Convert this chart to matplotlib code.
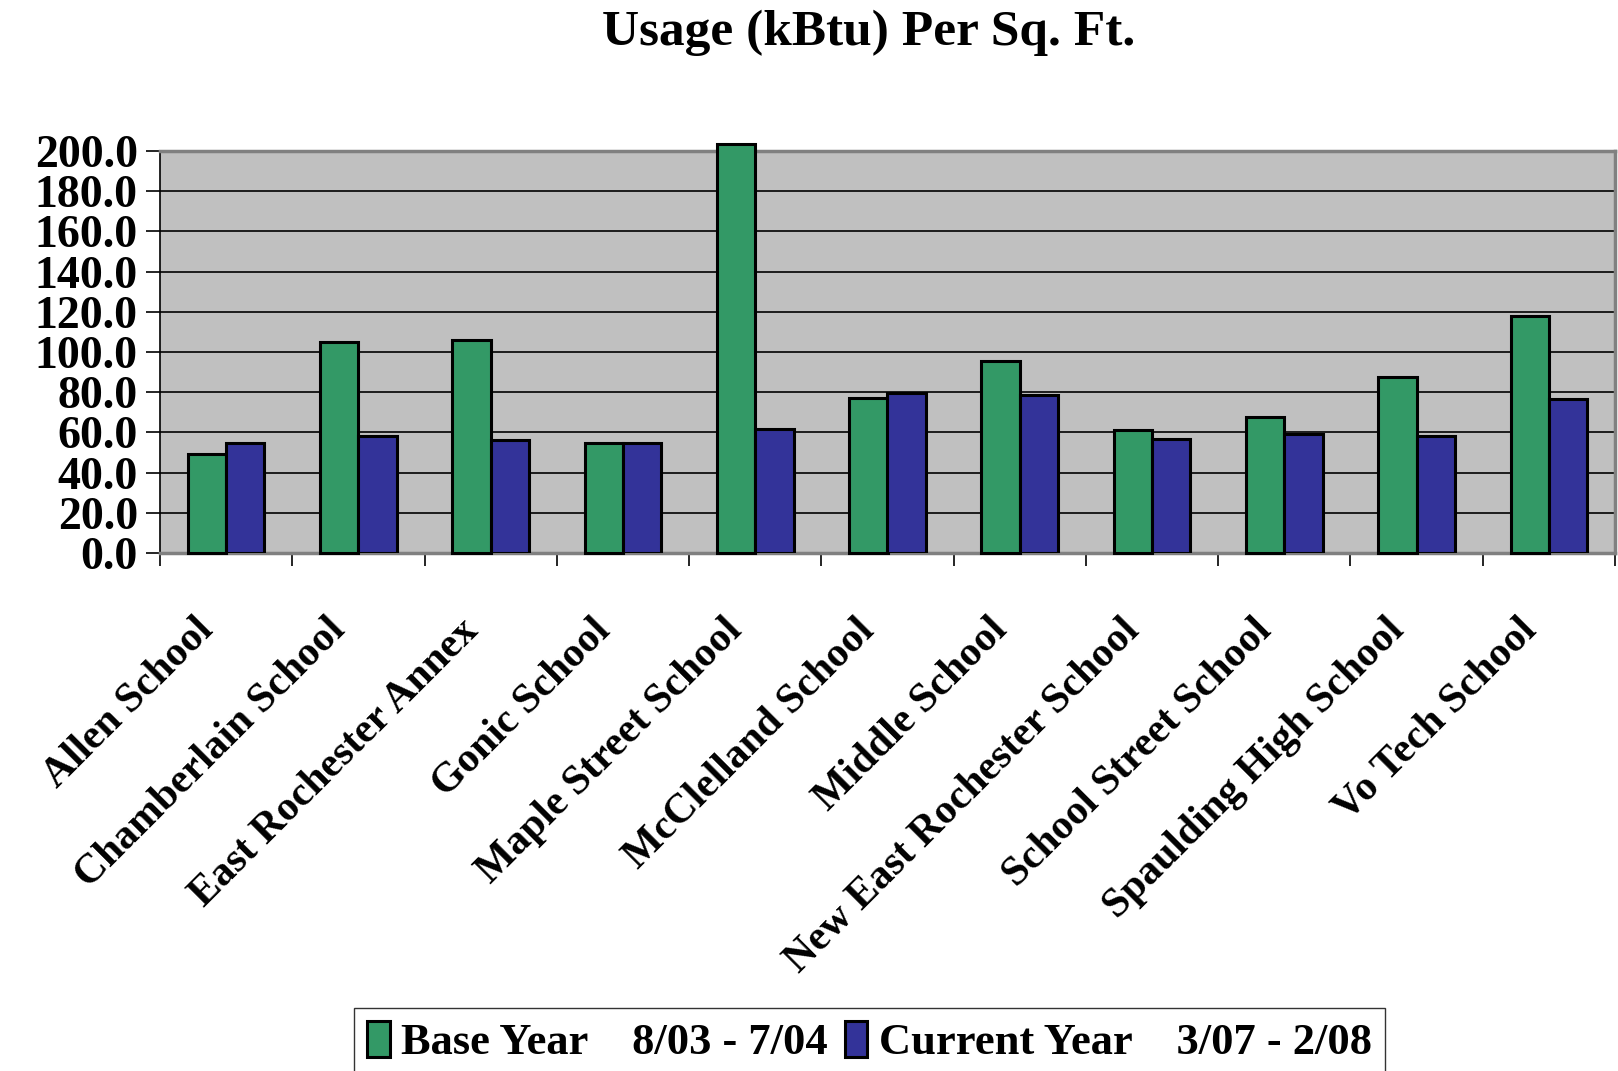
import numpy as np
import matplotlib
matplotlib.use('Agg')
import matplotlib.pyplot as plt
from matplotlib.transforms import ScaledTranslation

# Data
schools = ['Allen School', 'Chamberlain School', 'East Rochester Annex', 'Gonic School',
           'Maple Street School', 'McClelland School', 'Middle School',
           'New East Rochester School', 'School Street School', 'Spaulding High School',
           'Vo Tech School']
base_year = [49.5, 105.0, 106.0, 54.5, 203.5, 77.0, 95.5, 61.0, 67.5, 87.5, 118.0]
current_year = [54.5, 58.0, 56.0, 54.5, 61.5, 79.5, 78.5, 56.5, 59.0, 58.0, 76.5]
yticks = [0, 20, 40, 60, 80, 100, 120, 140, 160, 180, 200]

plt.rcParams['font.family'] = ['Liberation Serif', 'DejaVu Serif']
plt.rcParams['font.weight'] = 'bold'

W, H = 1618, 1071
fig = plt.figure(figsize=(W / 100, H / 100), dpi=100)
ax = fig.add_axes([160 / W, 1 - 553 / H, (1615 - 160) / W, (553 - 151) / H])
ax.set_facecolor('#C0C0C0')

x = np.arange(len(schools))
bw = 0.29
ax.bar(x - bw / 2, base_year, bw, color='#339966', edgecolor='black', linewidth=2.2,
       label='Base Year    8/03 - 7/04', zorder=3, clip_on=False)
ax.bar(x + bw / 2, current_year, bw, color='#333399', edgecolor='black', linewidth=2.2,
       label='Current Year    3/07 - 2/08', zorder=3)

ax.set_xlim(-0.5, len(schools) - 0.5)
ax.set_ylim(0, 200)
ax.set_yticks(yticks)
ax.set_yticklabels([f'{v:.1f}' for v in yticks], fontsize=33, fontweight='bold')
ax.yaxis.grid(True, color='black', linewidth=1.2, zorder=1)
ax.tick_params(axis='y', direction='out', length=10, width=1.2, pad=6)

# category boundaries as tick marks, names at the centres
ax.set_xticks(np.arange(len(schools) + 1) - 0.5)
ax.set_xticklabels([])
ax.set_xticks(x, minor=True)
ax.set_xticklabels(schools, minor=True, rotation=45, ha='right', va='top',
                   rotation_mode='anchor', fontsize=30, fontweight='bold')
ax.tick_params(axis='x', which='major', direction='out', length=9, width=1.2)
ax.tick_params(axis='x', which='minor', length=0, pad=42)
shift = ScaledTranslation(-32 / 100, 0, fig.dpi_scale_trans)
for lbl in ax.get_xticklabels(minor=True):
    lbl.set_transform(lbl.get_transform() + shift)

for s in ax.spines.values():
    s.set_color('#808080')
    s.set_linewidth(2.5)
ax.spines['left'].set_color('black')
ax.spines['left'].set_linewidth(1.2)

fig.text(869 / W, 1 - 33 / H, 'Usage (kBtu) Per Sq. Ft.', ha='center', va='center',
         fontsize=37, fontweight='bold')

leg = fig.legend(loc='upper left', bbox_to_anchor=(354 / W, 1 - 1008 / H), ncol=2,
                 fontsize=32, frameon=True, fancybox=False, borderaxespad=0,
                 handlelength=0.5, handleheight=0.85, handletextpad=0.25,
                 columnspacing=0.4, borderpad=0.3)
leg.get_frame().set_edgecolor('black')
leg.get_frame().set_linewidth(1.0)
for t in leg.get_texts():
    t.set_fontweight('bold')

fig.savefig('out.png', dpi=100)
